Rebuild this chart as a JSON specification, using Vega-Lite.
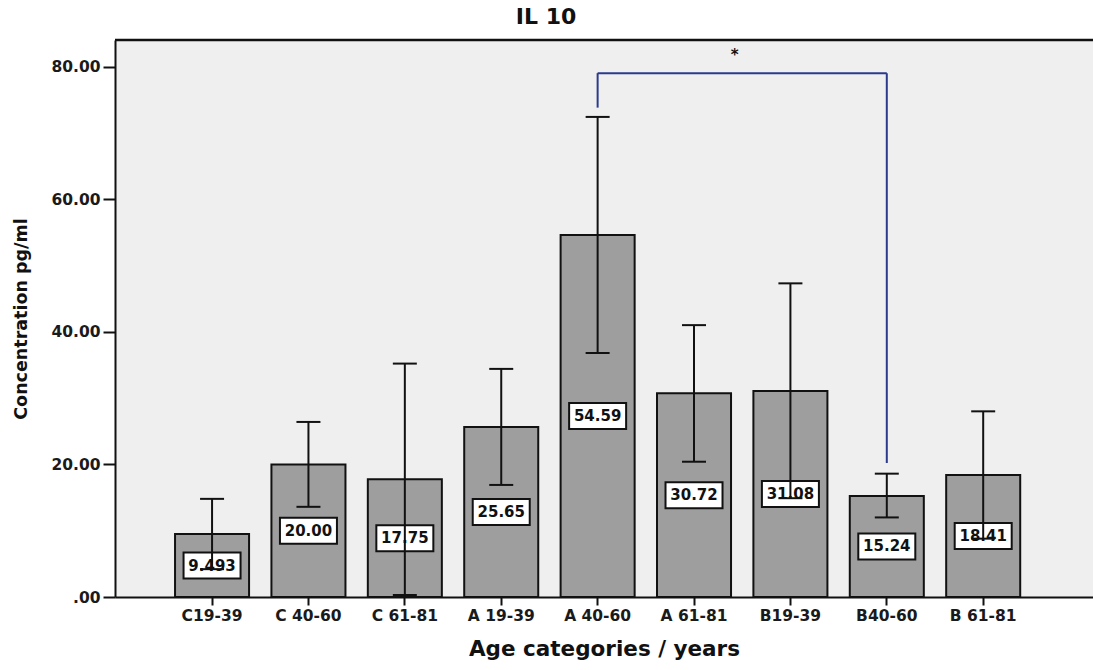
{
  "$schema": "https://vega.github.io/schema/vega-lite/v6.json",
  "autosize": {"type": "none"},
  "padding": {"left": 115, "top": 40, "right": 0, "bottom": 73},
  "width": 978,
  "height": 557,
  "background": "white",
  "title": {
    "text": "IL 10",
    "font": "DejaVu Sans",
    "fontWeight": "bold",
    "fontSize": 22,
    "color": "#111111",
    "anchor": "middle",
    "frame": "group",
    "dx": -58,
    "offset": 10
  },
  "datasets": {
    "groups": [
      {"cat": "C19-39", "mean": 9.493, "lower": 4.2, "upper": 14.8, "label": "9.493"},
      {"cat": "C 40-60", "mean": 20.0, "lower": 13.6, "upper": 26.4, "label": "20.00"},
      {"cat": "C 61-81", "mean": 17.75, "lower": 0.3, "upper": 35.2, "label": "17.75"},
      {"cat": "A 19-39", "mean": 25.65, "lower": 16.9, "upper": 34.4, "label": "25.65"},
      {"cat": "A 40-60", "mean": 54.59, "lower": 36.8, "upper": 72.4, "label": "54.59"},
      {"cat": "A 61-81", "mean": 30.72, "lower": 20.4, "upper": 41.0, "label": "30.72"},
      {"cat": "B19-39", "mean": 31.08, "lower": 14.9, "upper": 47.3, "label": "31.08"},
      {"cat": "B40-60", "mean": 15.24, "lower": 12.0, "upper": 18.6, "label": "15.24"},
      {"cat": "B 61-81", "mean": 18.41, "lower": 8.8, "upper": 28.0, "label": "18.41"}
    ],
    "bracket": [
      {"cat": "A 40-60", "cat2": "A 40-60", "y": 73.8, "y2": 79.0},
      {"cat": "A 40-60", "cat2": "B40-60", "y": 79.0, "y2": 79.0},
      {"cat": "B40-60", "cat2": "B40-60", "y": 79.0, "y2": 20.2}
    ],
    "star": [{"cat": "A 61-81", "y": 81.8, "text": "*"}]
  },
  "config": {
    "view": {"stroke": null, "fill": "#efefef"},
    "axis": {
      "labelFont": "DejaVu Sans",
      "labelFontWeight": "bold",
      "labelColor": "#1a1a1a",
      "titleFont": "DejaVu Sans",
      "titleFontWeight": "bold",
      "titleColor": "#111111",
      "domainColor": "#111111",
      "domainWidth": 2,
      "tickColor": "#111111",
      "tickWidth": 2,
      "grid": false
    }
  },
  "resolve": {"scale": {"y": "independent"}},
  "layer": [
    {
      "data": {"name": "groups"},
      "mark": {"type": "bar", "fill": "#9e9e9e", "stroke": "#111111", "strokeWidth": 2},
      "encoding": {
        "x": {
          "field": "cat", "type": "nominal", "sort": null,
          "scale": {"domain": ["C19-39", "C 40-60", "C 61-81", "A 19-39", "A 40-60", "A 61-81", "B19-39", "B40-60", "B 61-81"], "paddingInner": 0.232, "paddingOuter": 0.689, "align": 0.452},
          "axis": {"title": "Age categories / years", "titleFontSize": 21.5, "titlePadding": 15, "labelAngle": 0, "labelFontSize": 15.5, "tickSize": 8, "labelPadding": 3}
        },
        "y": {
          "field": "mean", "type": "quantitative",
          "scale": {"domain": [0, 84], "nice": false},
          "axis": {
            "title": "Concentration pg/ml", "titleFontSize": 17.5, "titlePadding": 20,
            "values": [0, 20, 40, 60, 80],
            "labelExpr": "datum.value == 0 ? '.00' : format(datum.value, '.2f')",
            "labelFontSize": 15.5, "tickSize": 12, "labelPadding": 3
          }
        }
      }
    },
    {
      "data": {"name": "groups"},
      "layer": [
        {
          "mark": {"type": "point", "shape": "M-1,-0.456H1V0.456H-1Z", "size": 3249, "filled": true, "fill": "white", "stroke": "#111111", "strokeWidth": 2, "opacity": 1}
        },
        {
          "mark": {"type": "text", "font": "DejaVu Sans", "fontWeight": "bold", "fontSize": 15, "color": "#111111", "baseline": "middle", "align": "center"},
          "encoding": {"text": {"field": "label"}}
        }
      ],
      "encoding": {
        "x": {
          "field": "cat", "type": "nominal", "sort": null,
          "scale": {"domain": ["C19-39", "C 40-60", "C 61-81", "A 19-39", "A 40-60", "A 61-81", "B19-39", "B40-60", "B 61-81"], "paddingInner": 0.232, "paddingOuter": 0.689, "align": 0.452},
          "axis": {"title": "Age categories / years", "titleFontSize": 21.5, "titlePadding": 15, "labelAngle": 0, "labelFontSize": 15.5, "tickSize": 8, "labelPadding": 3}
        },
        "y": {
          "field": "mean", "type": "quantitative",
          "scale": {"domain": [0, 168], "nice": false},
          "axis": null
        }
      }
    },
    {
      "layer": [
        {
          "data": {"name": "groups"},
          "mark": {"type": "rule", "color": "#111111", "strokeWidth": 2},
          "encoding": {
            "x": {
              "field": "cat", "type": "nominal", "sort": null,
              "scale": {"domain": ["C19-39", "C 40-60", "C 61-81", "A 19-39", "A 40-60", "A 61-81", "B19-39", "B40-60", "B 61-81"], "paddingInner": 0.232, "paddingOuter": 0.689, "align": 0.452},
              "axis": {"title": "Age categories / years", "titleFontSize": 21.5, "titlePadding": 15, "labelAngle": 0, "labelFontSize": 15.5, "tickSize": 8, "labelPadding": 3}
            },
            "y": {"field": "lower", "type": "quantitative", "scale": {"domain": [0, 84], "nice": false}, "axis": null},
            "y2": {"field": "upper"}
          }
        },
        {
          "data": {"name": "groups"},
          "mark": {"type": "tick", "color": "#111111", "thickness": 2, "size": 24, "orient": "horizontal", "opacity": 1},
          "encoding": {
            "x": {
              "field": "cat", "type": "nominal", "sort": null,
              "scale": {"domain": ["C19-39", "C 40-60", "C 61-81", "A 19-39", "A 40-60", "A 61-81", "B19-39", "B40-60", "B 61-81"], "paddingInner": 0.232, "paddingOuter": 0.689, "align": 0.452},
              "axis": {"title": "Age categories / years", "titleFontSize": 21.5, "titlePadding": 15, "labelAngle": 0, "labelFontSize": 15.5, "tickSize": 8, "labelPadding": 3}
            },
            "y": {"field": "upper", "type": "quantitative", "scale": {"domain": [0, 84], "nice": false}, "axis": null}
          }
        },
        {
          "data": {"name": "groups"},
          "mark": {"type": "tick", "color": "#111111", "thickness": 2, "size": 24, "orient": "horizontal", "opacity": 1},
          "encoding": {
            "x": {
              "field": "cat", "type": "nominal", "sort": null,
              "scale": {"domain": ["C19-39", "C 40-60", "C 61-81", "A 19-39", "A 40-60", "A 61-81", "B19-39", "B40-60", "B 61-81"], "paddingInner": 0.232, "paddingOuter": 0.689, "align": 0.452},
              "axis": {"title": "Age categories / years", "titleFontSize": 21.5, "titlePadding": 15, "labelAngle": 0, "labelFontSize": 15.5, "tickSize": 8, "labelPadding": 3}
            },
            "y": {"field": "lower", "type": "quantitative", "scale": {"domain": [0, 84], "nice": false}, "axis": null}
          }
        },
        {
          "data": {"name": "bracket"},
          "mark": {"type": "rule", "color": "#2b3a8c", "strokeWidth": 2},
          "encoding": {
            "x": {
              "field": "cat", "type": "nominal", "sort": null,
              "scale": {"domain": ["C19-39", "C 40-60", "C 61-81", "A 19-39", "A 40-60", "A 61-81", "B19-39", "B40-60", "B 61-81"], "paddingInner": 0.232, "paddingOuter": 0.689, "align": 0.452},
              "axis": {"title": "Age categories / years", "titleFontSize": 21.5, "titlePadding": 15, "labelAngle": 0, "labelFontSize": 15.5, "tickSize": 8, "labelPadding": 3}
            },
            "x2": {"field": "cat2"},
            "y": {"field": "y", "type": "quantitative", "scale": {"domain": [0, 84], "nice": false}, "axis": null},
            "y2": {"field": "y2"}
          }
        },
        {
          "data": {"name": "star"},
          "mark": {"type": "text", "font": "DejaVu Sans", "fontWeight": "bold", "fontSize": 15, "color": "#111111", "baseline": "middle", "align": "center"},
          "encoding": {
            "x": {
              "field": "cat", "type": "nominal", "sort": null, "bandPosition": 1.05,
              "scale": {"domain": ["C19-39", "C 40-60", "C 61-81", "A 19-39", "A 40-60", "A 61-81", "B19-39", "B40-60", "B 61-81"], "paddingInner": 0.232, "paddingOuter": 0.689, "align": 0.452},
              "axis": {"title": "Age categories / years", "titleFontSize": 21.5, "titlePadding": 15, "labelAngle": 0, "labelFontSize": 15.5, "tickSize": 8, "labelPadding": 3}
            },
            "y": {"field": "y", "type": "quantitative", "scale": {"domain": [0, 84], "nice": false}, "axis": null},
            "text": {"field": "text"}
          }
        },
        {
          "data": {"values": [{}]},
          "mark": {"type": "rule", "color": "#111111", "strokeWidth": 2.5},
          "encoding": {
            "y": {"datum": 84, "type": "quantitative", "scale": {"domain": [0, 84], "nice": false}, "axis": null}
          }
        }
      ]
    }
  ]
}
